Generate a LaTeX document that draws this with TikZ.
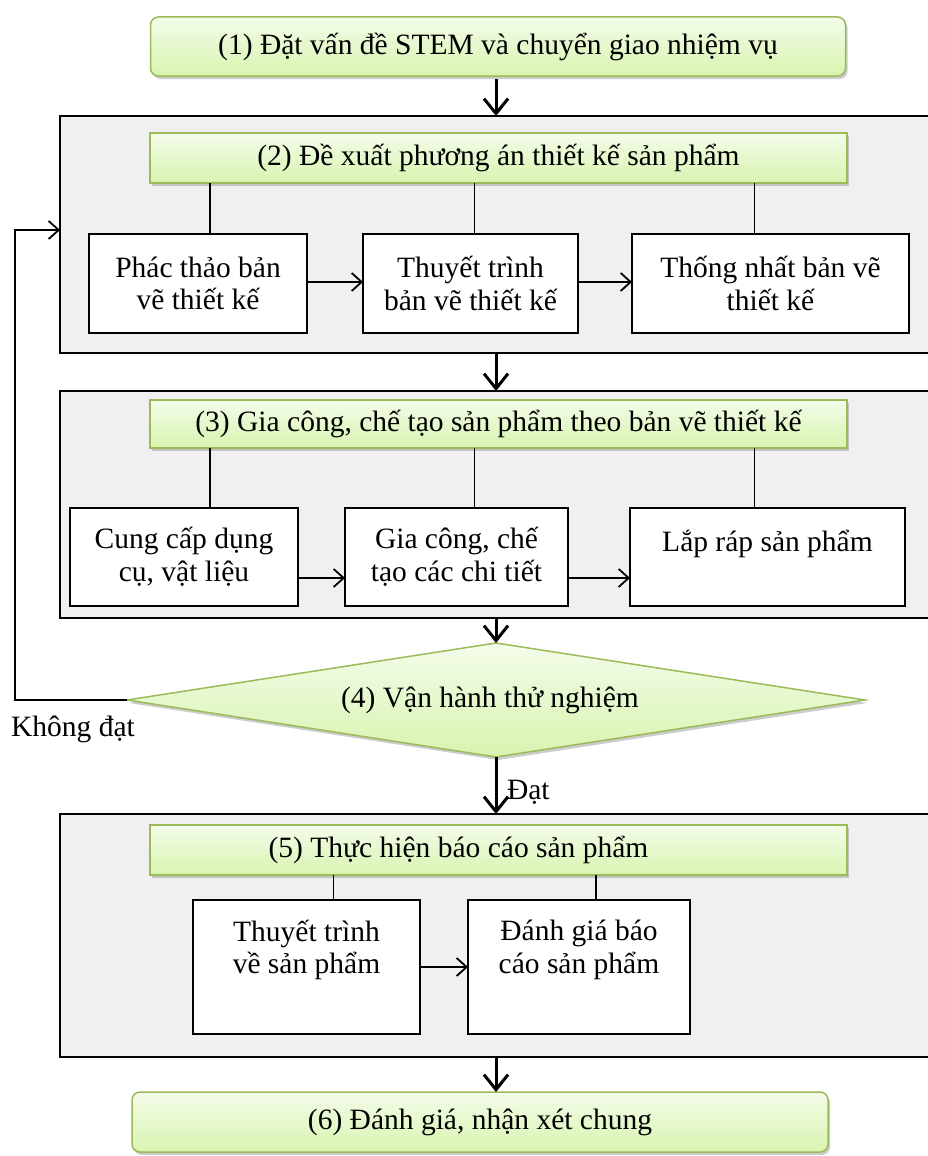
\documentclass[tikz,border=0pt]{standalone}
\usepackage{fontspec}
\setmainfont{Liberation Serif}
\usetikzlibrary{arrows.meta,shadows,shapes.geometric}
\definecolor{gborder}{HTML}{9BBB59}
\definecolor{gtop}{HTML}{F4FCEA}
\definecolor{gbot}{HTML}{D8F4AF}
\definecolor{panelgray}{HTML}{F0F0F0}
\begin{document}
\begin{tikzpicture}[x=1pt,y=-1pt,
  every node/.style={font=\fontsize{29.5}{32.5}\selectfont, inner sep=0pt, outer sep=0pt},
  greenbox/.style={draw=gborder, line width=1.5pt, top color=gtop, bottom color=gbot,
    drop shadow={shadow xshift=2pt, shadow yshift=-3pt, fill=black!40}},
  panel/.style={draw=black, line width=1.8pt, fill=panelgray},
  wbox/.style={draw=black, line width=1.5pt, fill=white, align=center},
  bigarrow/.style={line width=3pt, -{Straight Barb[length=15pt,width=24pt,line width=3pt]}},
  smallarrow/.style={line width=1.8pt, -{Straight Barb[length=10pt,width=18pt,line width=1.8pt]}},
  link/.style={line width=1.3pt}
]
\useasboundingbox (0,0) rectangle (928,1156);

% (1)
\node[greenbox, rounded corners=8pt, minimum width=695pt, minimum height=59pt] (b1) at (498,46.5)
  {(1) Đặt vấn đề STEM và chuyển giao nhiệm vụ};

% panel 2
\node[panel, minimum width=875pt, minimum height=237pt] (p2) at (497.5,234.5) {};
\node[greenbox, minimum width=697pt, minimum height=50pt] (h2) at (498.5,158)
  {(2) Đề xuất phương án thiết kế sản phẩm};
\node[wbox, minimum width=218pt, minimum height=99pt] (a2) at (198,283.5) {Phác thảo bản\\vẽ thiết kế};
\node[wbox, minimum width=215pt, minimum height=99pt] (b2) at (470.5,283.5) {Thuyết trình\\bản vẽ thiết kế};
\node[wbox, minimum width=277pt, minimum height=99pt] (c2) at (770.5,283.5) {Thống nhất bản vẽ\\thiết kế};
\draw[link] ([xshift=12pt]a2.north) -- ([xshift=12pt]a2.north |- h2.south);
\draw[link] ([xshift=4pt]b2.north) -- ([xshift=4pt]b2.north |- h2.south);
\draw[link] ([xshift=-16pt]c2.north) -- ([xshift=-16pt]c2.north |- h2.south);
\draw[smallarrow] ([yshift=1.5pt]a2.east) -- ([yshift=1.5pt]b2.west);
\draw[smallarrow] ([yshift=1.5pt]b2.east) -- ([yshift=1.5pt]c2.west);

% panel 3
\node[panel, minimum width=875pt, minimum height=227pt] (p3) at (497.5,504.5) {};
\node[greenbox, minimum width=697pt, minimum height=48pt] (h3) at (498.5,424)
  {(3) Gia công, chế tạo sản phẩm theo bản vẽ thiết kế};
\node[wbox, minimum width=228pt, minimum height=98pt] (a3) at (184,557) {Cung cấp dụng\\cụ, vật liệu};
\node[wbox, minimum width=223pt, minimum height=98pt] (b3) at (456.5,557) {Gia công, chế\\tạo các chi tiết};
\node[wbox, minimum width=275pt, minimum height=98pt] (c3) at (767.5,557) {Lắp ráp sản phẩm\\~};
\draw[link] ([xshift=26pt]a3.north) -- ([xshift=26pt]a3.north |- h3.south);
\draw[link] ([xshift=18pt]b3.north) -- ([xshift=18pt]b3.north |- h3.south);
\draw[link] ([xshift=-13pt]c3.north) -- ([xshift=-13pt]c3.north |- h3.south);
\draw[smallarrow] ([yshift=-21pt]a3.east) -- ([yshift=-21pt]b3.west);
\draw[smallarrow] ([yshift=-21pt]b3.east) -- ([yshift=-21pt]c3.west);

% (4) decision
\node[diamond, greenbox, minimum width=738pt, minimum height=114pt] (d4) at (496,700) {};
\node (t4) at (490,700) {(4) Vận hành thử nghiệm};
\node (kd) at (73,729) {Không đạt};
\coordinate (loopB) at (15,700);
\coordinate (loopT) at (15,230);
\draw[smallarrow] (d4.west) -- (loopB) -- (loopT) -- (loopT -| p2.west);

% panel 5
\node[panel, minimum width=875pt, minimum height=243pt] (p5) at (497.5,935.5) {};
\node[greenbox, minimum width=697pt, minimum height=50pt] (h5) at (498.5,850)
  {(5) Thực hiện báo cáo sản phẩm\hspace*{80pt}};
\node[wbox, minimum width=227pt, minimum height=134pt] (a5) at (306.5,967) {Thuyết trình\\về sản phẩm\\[8pt]~};
\node[wbox, minimum width=222pt, minimum height=134pt] (b5) at (579,967) {Đánh giá báo\\cáo sản phẩm\\[8pt]~};
\draw[link] ([xshift=27pt]a5.north) -- ([xshift=27pt]a5.north |- h5.south);
\draw[link] ([xshift=17pt]b5.north) -- ([xshift=17pt]b5.north |- h5.south);
\draw[smallarrow] (a5.east) -- (b5.west);

% (6)
\node[greenbox, rounded corners=8pt, minimum width=696pt, minimum height=60pt] (b6) at (480,1122)
  {(6) Đánh giá, nhận xét chung};

% main arrows
\draw[bigarrow, shorten <=3pt] (b1.south -| d4.north) -- (p2.north -| d4.north);
\draw[bigarrow] (p2.south -| d4.north) -- (p3.north -| d4.north);
\draw[bigarrow] (p3.south -| d4.north) -- (d4.north);
\draw[bigarrow] (d4.south) -- (d4.south |- p5.north) node[pos=0.62, anchor=west, xshift=11pt] (dat) {Đạt};
\draw[bigarrow] (p5.south -| d4.north) -- (b6.north -| d4.north);
\end{tikzpicture}
\end{document}
